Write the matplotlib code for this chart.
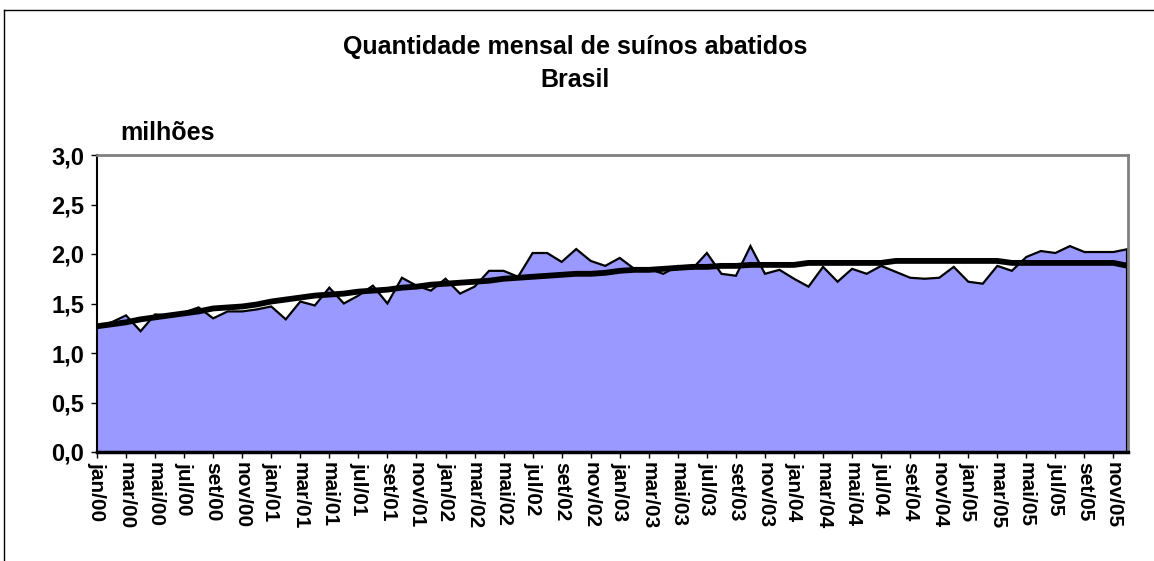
import matplotlib
matplotlib.use('Agg')
import matplotlib.pyplot as plt
from matplotlib.lines import Line2D
import numpy as np

plt.rcParams['font.family'] = ['Liberation Sans', 'DejaVu Sans']
plt.rcParams['font.weight'] = 'bold'

MONTHS = ['jan', 'fev', 'mar', 'abr', 'mai', 'jun',
          'jul', 'ago', 'set', 'out', 'nov', 'dez']
YEARS = ['00', '01', '02', '03', '04', '05']

# abates mensais (milhões de cabeças), jan/00 a dez/05
abates = [
    1.27, 1.31, 1.38, 1.22, 1.39, 1.38, 1.41, 1.46, 1.35, 1.42, 1.42, 1.44,
    1.47, 1.34, 1.52, 1.48, 1.66, 1.50, 1.58, 1.68, 1.50, 1.76, 1.68, 1.63,
    1.75, 1.60, 1.67, 1.83, 1.83, 1.77, 2.01, 2.01, 1.92, 2.05, 1.93, 1.88,
    1.96, 1.85, 1.85, 1.80, 1.88, 1.85, 2.01, 1.80, 1.78, 2.08, 1.80, 1.84,
    1.75, 1.67, 1.87, 1.72, 1.85, 1.80, 1.88, 1.82, 1.76, 1.75, 1.76, 1.87,
    1.72, 1.70, 1.88, 1.83, 1.97, 2.03, 2.01, 2.08, 2.02, 2.02, 2.02, 2.05,
]

# tendência
tendencia = [
    1.27, 1.29, 1.31, 1.34, 1.36, 1.38, 1.40, 1.42, 1.45, 1.46, 1.47, 1.49,
    1.52, 1.54, 1.56, 1.58, 1.59, 1.60, 1.62, 1.63, 1.64, 1.66, 1.67, 1.69,
    1.70, 1.71, 1.72, 1.73, 1.75, 1.76, 1.77, 1.78, 1.79, 1.80, 1.80, 1.81,
    1.83, 1.84, 1.84, 1.85, 1.86, 1.87, 1.87, 1.88, 1.88, 1.89, 1.89, 1.89,
    1.89, 1.91, 1.91, 1.91, 1.91, 1.91, 1.91, 1.93, 1.93, 1.93, 1.93, 1.93,
    1.93, 1.93, 1.93, 1.91, 1.91, 1.91, 1.91, 1.91, 1.91, 1.91, 1.91, 1.88,
]

labels = [f'{m}/{y}' for y in YEARS for m in MONTHS]
x = np.arange(len(abates))

fig = plt.figure(figsize=(11.54, 5.61), dpi=100)
ax = fig.add_axes([97 / 1154, 1 - 452 / 561, 1031 / 1154, 297 / 561])

ax.fill_between(x, abates, 0, color='#9999FF', linewidth=0)
ax.plot(x, abates, color='black', lw=1.6, solid_joinstyle='miter')
ax.vlines(x[-1], 0, abates[-1], color='black', lw=3)
ax.plot(x, tendencia, color='black', lw=4.2)

ax.set_xlim(0, len(abates) - 1)
ax.set_ylim(0, 3)
ax.set_yticks(np.arange(0, 3.01, 0.5))
ax.set_yticklabels([f'{v:.1f}'.replace('.', ',') for v in np.arange(0, 3.01, 0.5)],
                   fontsize=17, fontweight='bold')
ax.set_xticks(x[::2])
ax.set_xticklabels(labels[::2], rotation=270, fontsize=15, fontweight='bold',
                   va='top', ha='center')
ax.tick_params(axis='y', direction='out', length=4, width=1, pad=5)
ax.tick_params(axis='x', direction='out', length=4, width=1, pad=3)

for side in ['top', 'right']:
    ax.spines[side].set_color('#808080')
    ax.spines[side].set_linewidth(2)
ax.spines['left'].set_linewidth(1.5)
ax.spines['bottom'].set_linewidth(2.5)

fig.text(0.498, 1 - 47 / 561, 'Quantidade mensal de suínos abatidos',
         ha='center', va='center', fontsize=18, fontweight='bold')
fig.text(0.498, 1 - 80 / 561, 'Brasil', ha='center', va='center',
         fontsize=18, fontweight='bold')
fig.text(120 / 1154, 1 - 133 / 561, 'milhões', ha='left', va='center',
         fontsize=18, fontweight='bold')

# moldura do gráfico
fig.add_artist(Line2D([4 / 1154, 4 / 1154], [0, 1 - 10 / 561],
                      transform=fig.transFigure, color='black', lw=1))
fig.add_artist(Line2D([4 / 1154, 1], [1 - 10 / 561, 1 - 10 / 561],
                      transform=fig.transFigure, color='black', lw=1))

fig.savefig('out.png', dpi=100)
